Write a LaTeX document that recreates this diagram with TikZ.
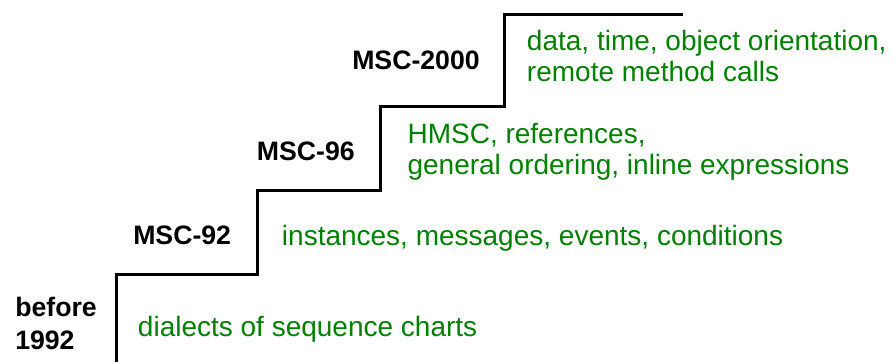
\documentclass[tikz,border=0pt]{standalone}
\usepackage{fontspec}
\setmainfont{Liberation Sans}
\definecolor{featgreen}{RGB}{0,128,0}
\begin{document}
\begin{tikzpicture}[x=0.75pt,y=-0.75pt,
  stair/.style={line width=2.25pt,line join=miter,line cap=butt},
  version/.style={inner sep=0pt,anchor=base west,align=left,
    font=\fontsize{20}{24.2}\selectfont\bfseries},
  feature/.style={inner sep=0pt,anchor=base west,align=left,text=featgreen,
    font=\fontsize{21}{22.8}\selectfont}]
  \useasboundingbox (0,0) rectangle (895,362);
  % the staircase of language versions
  \draw[stair] (116,362) |- (257.7,274.7) |- (380.7,190.7)
    |- (504.3,106) |- (683,14);
  % version names (a multi-line node sits on its last baseline)
  \node[version] (v0)   at (15,349)    {before\\1992};
  \node[version] (v92)  at (133,244.3) {MSC-92};
  \node[version] (v96)  at (256.7,160) {MSC-96};
  \node[version] (v2k)  at (352,69.3)  {MSC-2000};
  % features introduced by each version
  \node[feature] (f0)   at (137.7,336.7) {dialects of sequence charts};
  \node[feature] (f92)  at (281.7,245)   {instances, messages, events, conditions};
  \node[feature] (f96)  at (407.3,174)   {HMSC, references,\\general ordering, inline expressions};
  \node[feature] (f2k)  at (526.7,81)    {data, time, object orientation,\\remote method calls};
\end{tikzpicture}
\end{document}
